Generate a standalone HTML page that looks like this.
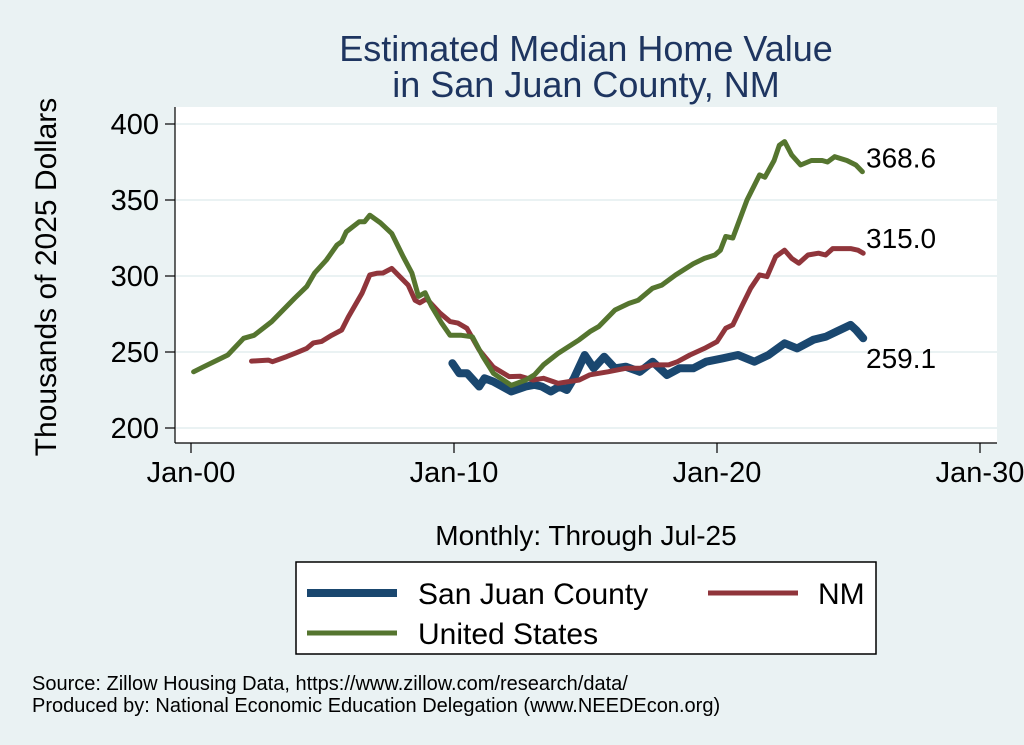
<!DOCTYPE html>
<html><head><meta charset="utf-8"><style>
html,body{margin:0;padding:0;background:#eaf2f3;}
svg{display:block;font-family:"Liberation Sans",Arial,sans-serif;}
</style></head><body>
<svg id="chart" width="1024" height="745" viewBox="0 0 1024 745" xmlns="http://www.w3.org/2000/svg">
<rect x="0" y="0" width="1024" height="745" fill="#eaf2f3"/>
<rect x="175" y="107" width="822" height="336" fill="#ffffff"/>
<text x="586" y="61" text-anchor="middle" font-size="36" fill="#1e3560">Estimated Median Home Value</text>
<text x="586" y="97" text-anchor="middle" font-size="36" fill="#1e3560">in San Juan County, NM</text>
<text transform="translate(56,277) rotate(-90)" text-anchor="middle" font-size="30" fill="#000">Thousands of 2025 Dollars</text>
<text x="586" y="545" text-anchor="middle" font-size="28" fill="#000">Monthly: Through Jul-25</text>
<g id="grid"></g><g id="axes"></g><g id="series"></g>
<g>
<rect x="296" y="562" width="580" height="92" fill="#fff" stroke="#000" stroke-width="1.5"/>
<line x1="307" y1="593" x2="397" y2="593" stroke="#1a476f" stroke-width="8"/>
<text x="418" y="604" font-size="30">San Juan County</text>
<line x1="708" y1="593" x2="798" y2="593" stroke="#90353b" stroke-width="5"/>
<text x="818" y="604" font-size="30">NM</text>
<line x1="307" y1="633" x2="397" y2="633" stroke="#55752f" stroke-width="5"/>
<text x="418" y="644" font-size="30">United States</text>
</g>
<text x="32" y="690" font-size="20">Source: Zillow Housing Data, https://www.zillow.com/research/data/</text>
<text x="32" y="712" font-size="20">Produced by: National Economic Education Delegation (www.NEEDEcon.org)</text>
</svg>
<script>
const yTicks=[200,250,300,350,400];
const xTicks=[2000,2010,2020,2030];
const xTickLabels=["Jan-00","Jan-10","Jan-20","Jan-30"];
const usYears=[2000.1,2000.45,2001.0,2001.4,2002.0,2002.4,2003.07,2003.5,2003.95,2004.4,2004.7,2005.15,2005.55,2005.73,2005.9,2006.4,2006.6,2006.8,2007.2,2007.63,2008.07,2008.4,2008.65,2008.9,2009.15,2009.53,2009.85,2010.28,2010.7,2011.1,2011.5,2012.18,2012.73,2013.06,2013.4,2013.95,2014.76,2015.17,2015.5,2016.12,2016.65,2017.0,2017.55,2017.9,2018.43,2019.1,2019.52,2019.92,2020.13,2020.33,2020.6,2021.14,2021.62,2021.82,2022.17,2022.37,2022.57,2022.84,2023.18,2023.59,2024.0,2024.2,2024.47,2024.94,2025.28,2025.53];
const usValues=[237,240,244.7,248,259,261,270,277.6,285.5,293,302,310.5,320.4,322.6,329,335.7,335.7,340,335,328,312.7,302,286.6,289,280,269,261,261,260,247,236,228,231.6,235,241.5,249,258,263.4,266.7,277.6,282,284,292,294,300.7,308,311.6,313.8,317,326,325,350,366.5,365,376,386,388.4,379.6,373,376,376,375,378.5,376,373,368.6];
const nmYears=[2002.3,2002.94,2003.1,2003.64,2004.0,2004.4,2004.65,2004.97,2005.35,2005.73,2005.98,2006.5,2006.8,2007.06,2007.3,2007.63,2008.0,2008.26,2008.52,2008.7,2008.96,2009.47,2009.85,2010.15,2010.49,2010.96,2011.5,2012.1,2012.52,2013.0,2013.4,2013.95,2014.76,2015.17,2015.85,2016.53,2017.07,2017.55,2018.16,2018.5,2018.97,2019.52,2020.0,2020.33,2020.6,2020.94,2021.28,2021.62,2021.9,2022.23,2022.57,2022.84,2023.11,2023.46,2023.86,2024.13,2024.4,2025.08,2025.36,2025.56];
const nmValues=[244,244.7,243.6,247,249.5,252.4,256,257,261,264.5,273,288.6,300.7,301.8,302,305,298.5,294,284,282.4,285,275.5,270,269,265.6,251.3,240,233.8,234,231.6,232.7,229.4,231.6,235,237,239.3,239.3,241.5,241.5,243.6,248,252.4,256.8,265.6,267.8,280,292,300.7,299.6,312.7,317,311.6,308.4,313.8,315,313.8,318,318,317,315.0];
const sjYears=[2009.94,2010.2,2010.5,2010.96,2011.16,2011.5,2012.18,2012.73,2013.06,2013.34,2013.68,2014.01,2014.29,2014.56,2014.97,2015.31,2015.71,2016.12,2016.53,2017.07,2017.55,2018.1,2018.57,2019.1,2019.59,2020.2,2020.8,2021.42,2021.96,2022.57,2023.05,2023.66,2024.13,2024.54,2025.08,2025.29,2025.56];
const sjValues=[242.6,236,236,227.3,232.7,230.5,224,227.3,228.4,227.3,224,227.3,225,232.7,248,239.3,246.9,239.3,240.3,237,243.6,234.9,239.3,239.3,243.6,245.8,248,243.6,248,255.7,252.4,258,260,263.4,267.8,264.5,259.1];
const endLabels=["368.6","315.0","259.1"];
const NS="http://www.w3.org/2000/svg";
const X=t=>191+(t-2000)*26.3;
const Y=v=>124+(400-v)*1.52;
function mk(tag,attrs,parent){const e=document.createElementNS(NS,tag);for(const k in attrs)e.setAttribute(k,attrs[k]);parent.appendChild(e);return e;}
const grid=document.getElementById('grid'),axes=document.getElementById('axes'),ser=document.getElementById('series');
yTicks.forEach(v=>{
  const g=mk('line',{x1:176,x2:997,y1:Y(v),y2:Y(v),stroke:'#eaf2f3','stroke-width':2},grid);
  
  
  const t=mk('line',{x1:165,x2:175,y1:Y(v),y2:Y(v),stroke:'#000','stroke-width':1.2},axes);
  
  
  const l=mk('text',{x:159,y:Y(v)+10,'text-anchor':'end','font-size':29},axes);
  
  
  l.textContent=v;
});
xTicks.forEach((t,i)=>{
  const k=mk('line',{x1:X(t),x2:X(t),y1:443,y2:453,stroke:'#000','stroke-width':1.2},axes);
  
  
  const l=mk('text',{x:X(t),y:482,'text-anchor':'middle','font-size':29},axes);
  
  
  l.textContent=xTickLabels[i];
});
const ya=mk('line',{x1:175,x2:175,y1:107,y2:443,stroke:'#000','stroke-width':1.2},axes);


const xa=mk('line',{x1:175,x2:997,y1:443,y2:443,stroke:'#000','stroke-width':1.2},axes);


function line(xs,vs,color,w,name){
  const d=xs.map((t,i)=>(i?'L':'M')+X(t).toFixed(1)+','+Y(vs[i]).toFixed(1)).join('');
  const p=mk('path',{d:d,fill:'none',stroke:color,'stroke-width':w,'stroke-linejoin':'round','stroke-linecap':'round'},ser);
  
  
}
line(sjYears,sjValues,'#1a476f',8,'series-san-juan-county');
line(nmYears,nmValues,'#90353b',5,'series-nm');
line(usYears,usValues,'#55752f',5,'series-united-states');
const ends=[[usYears,usValues,-14],[nmYears,nmValues,-15],[sjYears,sjValues,20]];
ends.forEach((e,i)=>{
  const xs=e[0],vs=e[1];
  const l=mk('text',{x:866,y:Y(vs[vs.length-1])+e[2]+10,'font-size':28},ser);
  
  
  l.textContent=endLabels[i];
});
</script>
</body></html>
